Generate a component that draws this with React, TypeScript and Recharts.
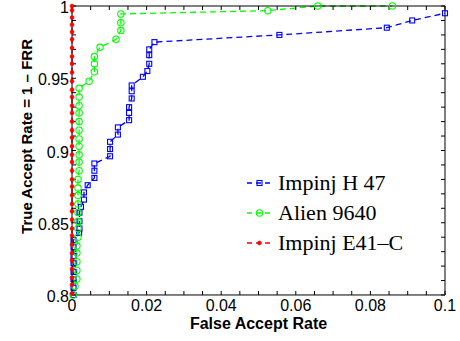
import React from "react";
import { LineChart, Line, XAxis, YAxis, Legend, Label } from "recharts";

type Pt = { x: number; y: number };

const seriesNames = ["Impinj H 47", "Alien 9640", "Impinj E41\u2013C"];
const seriesColors = ["#0000ff", "#00ff00", "#ff0000"];

// Impinj H 47 (blue squares)
const impinjH47: Pt[] = [
  { x: 0.0004, y: 0.8 }, { x: 0.0004, y: 0.805 }, { x: 0.0004, y: 0.811 },
  { x: 0.0004, y: 0.816 }, { x: 0.0004, y: 0.822 }, { x: 0.0004, y: 0.827 },
  { x: 0.0004, y: 0.833 }, { x: 0.0004, y: 0.838 }, { x: 0.0019, y: 0.843 },
  { x: 0.002, y: 0.846 }, { x: 0.002, y: 0.851 }, { x: 0.002, y: 0.857 },
  { x: 0.0024, y: 0.861 }, { x: 0.0032, y: 0.866 }, { x: 0.0032, y: 0.871 },
  { x: 0.0042, y: 0.876 }, { x: 0.006, y: 0.881 }, { x: 0.006, y: 0.886 },
  { x: 0.006, y: 0.891 }, { x: 0.0102, y: 0.896 }, { x: 0.0102, y: 0.901 },
  { x: 0.0102, y: 0.906 }, { x: 0.0123, y: 0.911 }, { x: 0.0123, y: 0.916 },
  { x: 0.0153, y: 0.921 }, { x: 0.0153, y: 0.926 }, { x: 0.0153, y: 0.93 },
  { x: 0.016, y: 0.936 }, { x: 0.016, y: 0.941 }, { x: 0.016, y: 0.945 },
  { x: 0.019, y: 0.951 }, { x: 0.0202, y: 0.955 }, { x: 0.0207, y: 0.96 },
  { x: 0.0207, y: 0.966 }, { x: 0.0207, y: 0.97 }, { x: 0.0221, y: 0.975 },
  { x: 0.0556, y: 0.98 }, { x: 0.0844, y: 0.985 }, { x: 0.0912, y: 0.99 },
  { x: 0.1, y: 0.995 },
];

// Alien 9640 (green circles)
const alien9640: Pt[] = [
  { x: 0.0003, y: 0.8 }, { x: 0.0008, y: 0.806 }, { x: 0.0013, y: 0.811 },
  { x: 0.0013, y: 0.817 }, { x: 0.0013, y: 0.823 }, { x: 0.0013, y: 0.829 },
  { x: 0.0013, y: 0.834 }, { x: 0.0016, y: 0.84 }, { x: 0.0016, y: 0.846 },
  { x: 0.0016, y: 0.851 }, { x: 0.0016, y: 0.857 }, { x: 0.0016, y: 0.863 },
  { x: 0.0016, y: 0.869 }, { x: 0.0016, y: 0.874 }, { x: 0.0016, y: 0.88 },
  { x: 0.0019, y: 0.886 }, { x: 0.0019, y: 0.892 }, { x: 0.0019, y: 0.897 },
  { x: 0.0019, y: 0.903 }, { x: 0.0019, y: 0.908 }, { x: 0.0019, y: 0.914 },
  { x: 0.0019, y: 0.92 }, { x: 0.0019, y: 0.926 }, { x: 0.0019, y: 0.931 },
  { x: 0.0019, y: 0.937 }, { x: 0.0019, y: 0.943 }, { x: 0.0046, y: 0.948 },
  { x: 0.006, y: 0.9545 }, { x: 0.006, y: 0.96 }, { x: 0.006, y: 0.965 },
  { x: 0.0075, y: 0.9714 }, { x: 0.0118, y: 0.977 }, { x: 0.0131, y: 0.983 },
  { x: 0.0131, y: 0.9885 }, { x: 0.0131, y: 0.9945 }, { x: 0.0525, y: 0.9968 },
  { x: 0.0659, y: 1.0 }, { x: 0.0859, y: 1.0 },
];

// Impinj E41-C (red dots)
const impinjE41C: Pt[] = [
  { x: 0, y: 0.801 }, { x: 0, y: 0.807 }, { x: 0, y: 0.812 }, { x: 0, y: 0.818 },
  { x: 0, y: 0.824 }, { x: 0, y: 0.829 }, { x: 0, y: 0.835 }, { x: 0, y: 0.841 },
  { x: 0, y: 0.846 }, { x: 0, y: 0.852 }, { x: 0, y: 0.858 }, { x: 0, y: 0.863 },
  { x: 0, y: 0.869 }, { x: 0, y: 0.875 }, { x: 0, y: 0.88 }, { x: 0, y: 0.886 },
  { x: 0, y: 0.892 }, { x: 0, y: 0.897 }, { x: 0, y: 0.903 }, { x: 0, y: 0.909 },
  { x: 0, y: 0.914 }, { x: 0, y: 0.92 }, { x: 0, y: 0.926 }, { x: 0, y: 0.931 },
  { x: 0, y: 0.937 }, { x: 0, y: 0.942 }, { x: 0, y: 0.948 }, { x: 0, y: 0.954 },
  { x: 0, y: 0.96 }, { x: 0, y: 0.965 }, { x: 0, y: 0.971 }, { x: 0, y: 0.977 },
  { x: 0, y: 0.982 }, { x: 0, y: 0.987 }, { x: 0, y: 0.992 }, { x: 0, y: 0.997 },
  { x: 0, y: 1.0 },
];

const xTicks = [0, 0.02, 0.04, 0.06, 0.08, 0.1];
const xMinorTicks = [
  0, 0.005, 0.01, 0.015, 0.02, 0.025, 0.03, 0.035, 0.04, 0.045, 0.05,
  0.055, 0.06, 0.065, 0.07, 0.075, 0.08, 0.085, 0.09, 0.095, 0.1,
];
const yTicks = [0.8, 0.85, 0.9, 0.95, 1];
const yMinorTicks = [
  0.8, 0.81, 0.82, 0.83, 0.84, 0.85, 0.86, 0.87, 0.88, 0.89, 0.9,
  0.91, 0.92, 0.93, 0.94, 0.95, 0.96, 0.97, 0.98, 0.99, 1,
];

const sans = "'Liberation Sans', Arial, Helvetica, sans-serif";
const serif = "'Liberation Serif', 'Times New Roman', serif";
const tickStyle = { fill: "#000", fontSize: 16, fontFamily: sans };
const noLabel = () => "";
const THIN = 0.01; // axes need a non-zero size to be drawn

function marker(kind: number, cx: number, cy: number, key?: string) {
  const c = seriesColors[kind];
  if (kind === 0)
    return <rect key={key} x={cx - 2.5} y={cy - 2.5} width={5} height={5} fill="none" stroke={c} strokeWidth={1.1} />;
  if (kind === 1)
    return <circle key={key} cx={cx} cy={cy} r={3.2} fill="none" stroke={c} strokeWidth={1.1} />;
  return <circle key={key} cx={cx} cy={cy} r={2} fill={c} stroke={c} strokeWidth={0.5} />;
}

const dotFor = (kind: number) => (p: any) =>
  marker(kind, p.cx, p.cy, `m${kind}-${p.index}`);

function renderLegend() {
  return (
    <div style={{ background: "#fff" }}>
      {seriesNames.map((name, i) => (
        <div key={name} style={{ display: "flex", alignItems: "center", height: 30 }}>
          <svg width={30} height={30} style={{ marginRight: 3 }}>
            <line x1={2} y1={15} x2={27} y2={15} stroke={seriesColors[i]} strokeWidth={1.3} strokeDasharray="5 4" />
            {marker(i, 14.5, 15)}
          </svg>
          <span style={{ fontFamily: serif, fontSize: 22, color: "#000", whiteSpace: "nowrap" }}>{name}</span>
        </div>
      ))}
    </div>
  );
}

function YTitle(props: any) {
  const vb = props.viewBox || {};
  const cx = vb.x - 45;
  const cy = vb.y + vb.height / 2 - 14;
  return (
    <text
      x={cx}
      y={cy}
      transform={`rotate(-90 ${cx} ${cy})`}
      textAnchor="middle"
      dominantBaseline="central"
      fontFamily={sans}
      fontWeight="bold"
      fontSize={15}
      fill="#000"
    >
      True Accept Rate = 1 {"\u2013"} FRR
    </text>
  );
}

export default function App() {
  return (
    <div style={{ position: "absolute", left: 0, top: 0, width: 460, height: 341, background: "#fff" }}>
      <LineChart width={460} height={341} margin={{ top: 6, right: 15, bottom: 46, left: 72 }}>
        {/* tick-only axes (inward ticks, box) */}
        <XAxis xAxisId="xMinor" type="number" dataKey="x" domain={[0, 0.1]} allowDataOverflow
          ticks={xMinorTicks} height={THIN} axisLine={false} tickSize={-4} tickFormatter={noLabel}
          tickLine={{ stroke: "#000" }} />
        <XAxis xAxisId="xTop" orientation="top" type="number" dataKey="x" domain={[0, 0.1]} allowDataOverflow
          ticks={xMinorTicks} height={THIN} axisLine={{ stroke: "#000" }} tickSize={-4} tickFormatter={noLabel}
          tickLine={{ stroke: "#000" }} />
        <YAxis yAxisId="yMinor" type="number" domain={[0.8, 1]} allowDataOverflow
          ticks={yMinorTicks} width={THIN} axisLine={false} tickSize={-4} tickFormatter={noLabel}
          tickLine={{ stroke: "#000" }} />
        <YAxis yAxisId="yRight" orientation="right" type="number" domain={[0.8, 1]} allowDataOverflow
          ticks={yMinorTicks} width={THIN} axisLine={{ stroke: "#000" }} tickSize={-4} tickFormatter={noLabel}
          tickLine={{ stroke: "#000" }} />

        <XAxis xAxisId="x" type="number" dataKey="x" domain={[0, 0.1]}
          ticks={xTicks} height={THIN} tickSize={0} tickMargin={5} tickLine={false}
          axisLine={{ stroke: "#000" }} tick={tickStyle} interval={0}>
          <Label value="False Accept Rate" position="bottom" offset={23}
            style={{ fontFamily: sans, fontWeight: "bold", fontSize: 16, fill: "#000" }} />
        </XAxis>
        <YAxis yAxisId="y" type="number" domain={[0.8, 1]}
          ticks={yTicks} width={THIN} tickSize={0} tickMargin={3} tickLine={false}
          axisLine={{ stroke: "#000" }} tick={{ ...tickStyle, dy: 1.5 }} interval={0}>
          <Label content={YTitle} />
        </YAxis>

        <Legend layout="vertical" align="center" verticalAlign="middle" content={renderLegend}
          wrapperStyle={{ left: 245, top: 168, width: "auto" }} />

        <Line xAxisId="x" yAxisId="y" data={impinjH47} dataKey="y" name={seriesNames[0]}
          stroke={seriesColors[0]} strokeWidth={1.3} strokeDasharray="6 4" dot={dotFor(0)}
          activeDot={false} isAnimationActive={false} />
        <Line xAxisId="x" yAxisId="y" data={alien9640} dataKey="y" name={seriesNames[1]}
          stroke={seriesColors[1]} strokeWidth={1.3} strokeDasharray="6 4" dot={dotFor(1)}
          activeDot={false} isAnimationActive={false} />
        <Line xAxisId="x" yAxisId="y" data={impinjE41C} dataKey="y" name={seriesNames[2]}
          stroke={seriesColors[2]} strokeWidth={1.3} strokeDasharray="6 4" dot={dotFor(2)}
          activeDot={false} isAnimationActive={false} />
      </LineChart>
    </div>
  );
}
